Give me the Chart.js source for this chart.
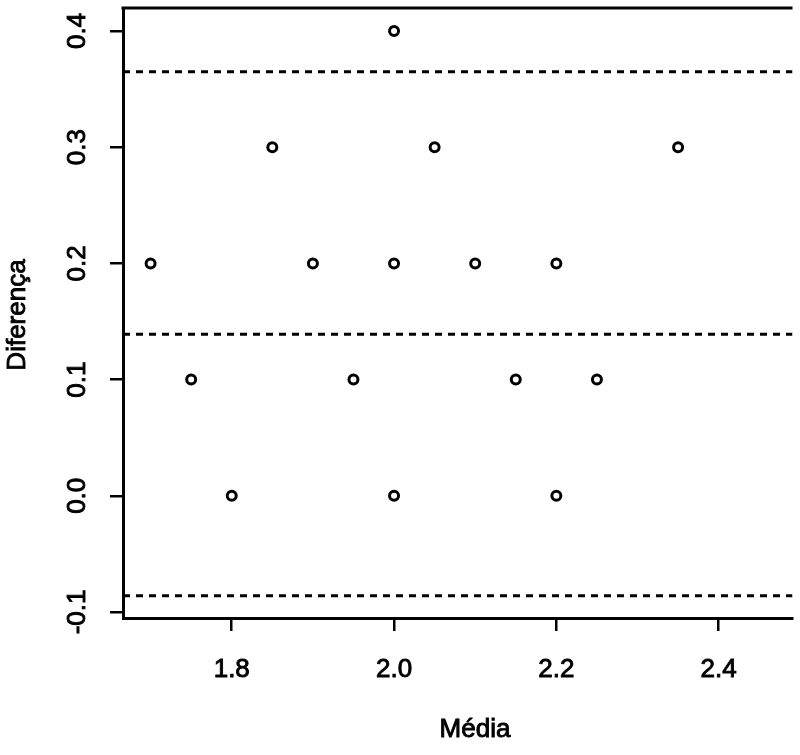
<!DOCTYPE html>
<html>
<head>
<meta charset="utf-8">
<script src="https://cdn.jsdelivr.net/npm/chart.js@4.4.1/dist/chart.umd.min.js"></script>
<style>
  html, body { margin: 0; padding: 0; background: #ffffff; }
  #wrap { width: 800px; height: 755px; }
</style>
</head>
<body>
<div id="wrap"><canvas id="c" width="800" height="755"></canvas></div>
<script>
// Bland-Altman: media vs diferenca
var media     = [1.70, 1.75, 1.80, 1.85, 1.90, 1.95, 2.00, 2.00, 2.00, 2.05, 2.10, 2.15, 2.20, 2.20, 2.25, 2.35];
var diferenca = [0.20, 0.10, 0.00, 0.30, 0.20, 0.10, 0.40, 0.20, 0.00, 0.30, 0.20, 0.10, 0.20, 0.00, 0.10, 0.30];

// mean difference and limits of agreement (dashed lines)
var refLines = [0.365, 0.139, -0.086];

var xTicks = [1.8, 2.0, 2.2, 2.4];
var yTicks = [-0.1, 0.0, 0.1, 0.2, 0.3, 0.4];

var xTitle = "Média";
var yTitle = "Diferença";

var FONT = "26px 'Liberation Sans', Arial, sans-serif";

var points = [];
for (var i = 0; i < media.length; i++) {
  points.push({ x: media[i], y: diferenca[i] });
}

// dashed reference lines span the whole x range
var X_MIN = 1.666, X_MAX = 2.491;
var lineSets = refLines.map(function(v) {
  return {
    type: "line",
    data: [{ x: X_MIN, y: v }, { x: X_MAX, y: v }],
    borderColor: "#000",
    borderWidth: 3,
    borderDash: [7, 6],
    pointRadius: 0,
    fill: false,
  };
});

// heavier text, the reference is a blurry jpeg of R output
function boldText(ctx, txt, x, y) {
  ctx.fillText(txt, x, y);
  ctx.strokeText(txt, x, y);
}

// draws rotated y labels, x labels, titles and the top border like base R
var rStyle = {
  id: "rStyle",
  afterDraw: function(chart) {
    var ctx = chart.ctx;
    var a = chart.chartArea;
    var xs = chart.scales.x, ys = chart.scales.y;
    ctx.save();
    ctx.strokeStyle = "#000";
    ctx.lineWidth = 3;
    ctx.beginPath();
    ctx.moveTo(a.left - 1.5, a.top);
    ctx.lineTo(a.right, a.top);
    ctx.stroke();

    ctx.fillStyle = "#000";
    ctx.lineWidth = 0.9;
    ctx.font = FONT;
    ctx.textAlign = "center";
    ctx.textBaseline = "alphabetic";
    xTicks.forEach(function(v) {
      boldText(ctx, v.toFixed(1), xs.getPixelForValue(v), 677);
    });
    yTicks.forEach(function(v) {
      var py = ys.getPixelForValue(v);
      ctx.save();
      ctx.translate(85, py);
      ctx.rotate(-Math.PI / 2);
      boldText(ctx, v.toFixed(1), 0, 0);
      ctx.restore();
    });

    boldText(ctx, xTitle, 475, 737);
    ctx.save();
    ctx.translate(25, 315);
    ctx.rotate(-Math.PI / 2);
    boldText(ctx, yTitle, 0, 0);
    ctx.restore();
    ctx.restore();
  }
};

new Chart(document.getElementById("c"), {
  type: "scatter",
  data: {
    datasets: [{
      data: points,
      pointStyle: "circle",
      pointRadius: 4.5,
      pointBorderWidth: 3,
      pointBorderColor: "#000",
      pointBackgroundColor: "#fff",
      showLine: false,
    }].concat(lineSets),
  },
  options: {
    responsive: false,
    animation: false,
    events: [],
    layout: { padding: { top: 8, right: 7, left: 0, bottom: 0 } },
    plugins: { legend: { display: false }, tooltip: { enabled: false } },
    scales: {
      x: {
        type: "linear",
        min: X_MIN,
        max: X_MAX,
        afterBuildTicks: function(s) { s.ticks = xTicks.map(function(v) { return { value: v }; }); },
        afterFit: function(s) { s.height = 137; },
        ticks: { display: false },
        grid: { drawOnChartArea: false, drawTicks: true, tickLength: 13, color: "#000", lineWidth: 2.5 },
        border: { display: true, color: "#000", width: 3 },
      },
      y: {
        type: "linear",
        min: -0.1052,
        max: 0.4198,
        afterBuildTicks: function(s) { s.ticks = yTicks.map(function(v) { return { value: v }; }); },
        afterFit: function(s) { s.width = 123; },
        ticks: { display: false },
        grid: { drawOnChartArea: false, drawTicks: true, tickLength: 13, color: "#000", lineWidth: 2.5 },
        border: { display: true, color: "#000", width: 3 },
      },
    },
  },
  plugins: [rStyle],
});
</script>
</body>
</html>
